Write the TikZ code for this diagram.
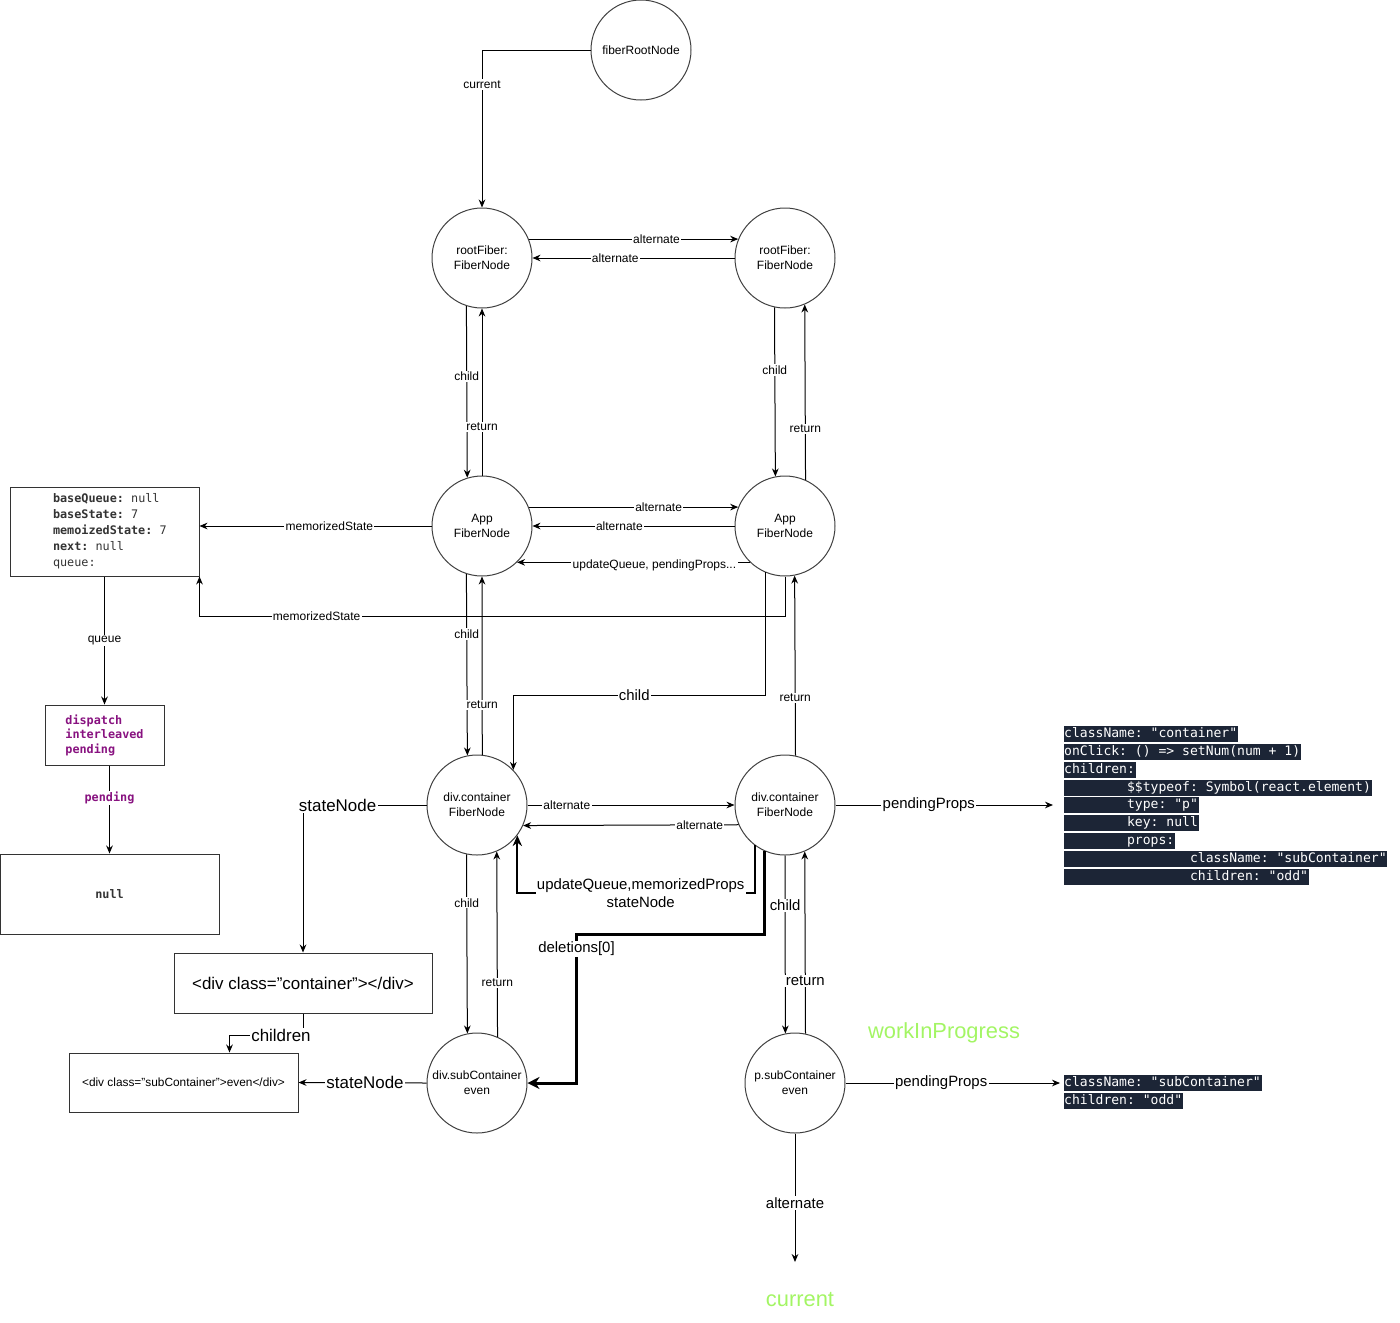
\documentclass[tikz,border=0pt]{standalone}
\usepackage{fontspec}
\setmainfont{Liberation Sans}
\setmonofont{DejaVu Sans Mono}
\usetikzlibrary{arrows.meta,calc}
\definecolor{codebg}{RGB}{28,37,54}
\definecolor{hookpurple}{RGB}{136,18,128}
\definecolor{wipgreen}{RGB}{163,245,100}
\newcommand{\hookind}{\hspace*{8pt}}

\begin{document}
\begin{tikzpicture}[x=.75pt,y=-.75pt,line width=.75pt,
  fiber/.style={circle,draw=black!75,minimum size=75pt,inner sep=0pt,align=center,font=\fontsize{9}{11.25}\selectfont},
  box/.style={rectangle,draw=black!80,inner sep=0pt},
  lbl/.style={fill=white,inner sep=1pt,font=\fontsize{9}{11}\selectfont},
  biglbl/.style={fill=white,inner sep=1pt,font=\fontsize{11.2}{13.5}\selectfont},
  domlbl/.style={fill=white,inner sep=1pt,font=\fontsize{12.7}{15}\selectfont},
  link/.style={-{Stealth[length=6pt,width=5pt]}},
  codeln/.style={anchor=west,fill=codebg,text=white,inner xsep=.5pt,inner ysep=0pt,text height=8.8pt,text depth=3pt,font=\fontsize{9.8}{11}\ttfamily},
  wiplabel/.style={text=wipgreen,font=\fontsize{16.4}{19}\selectfont}]
\useasboundingbox (0,0) rectangle (1400,1322);

\node[fiber] (froot) at (641,50) {fiberRootNode};
\node[fiber] (rootL) at (482,258) {rootFiber:\\FiberNode};
\node[fiber] (rootR) at (785,258) {rootFiber:\\FiberNode};
\node[fiber] (appL) at (482,526) {App\\FiberNode};
\node[fiber] (appR) at (785,526) {App\\FiberNode};
\node[fiber] (divL) at (477,805) {div.container\\FiberNode};
\node[fiber] (divR) at (785,805) {div.container\\FiberNode};
\node[fiber] (subL) at (477,1083) {div.subContainer\\even};
\node[fiber] (subR) at (795,1083) {p.subContainer\\even};

\node[box,minimum width=141.75pt,minimum height=66.75pt,align=left,text=black!80,font=\fontsize{8.85}{12}\ttfamily] (hook) at (104.5,531.5)
  {\hookind\textbf{baseQueue:} null\\\hookind\textbf{baseState:} 7\\\hookind\textbf{memoizedState:} 7\\\hookind\textbf{next:} null\\\hookind queue:};
\node[box,minimum width=89.25pt,minimum height=45pt,align=left,text=hookpurple,font=\fontsize{8.85}{10.9}\ttfamily\bfseries] (dispatch) at (104.5,735)
  {dispatch\\interleaved\\pending};
\node[box,minimum width=164.25pt,minimum height=60pt,text=black!80,font=\fontsize{8.85}{10.9}\ttfamily\bfseries] (null) at (109.5,894) {null};
\node[box,minimum width=193.5pt,minimum height=45pt,font=\fontsize{12.7}{15}\selectfont] (cbox) at (303,983) {<div class="container"></div>};
\node[box,minimum width=171.75pt,minimum height=44.25pt,font=\fontsize{8.9}{11}\selectfont] (sbox) at (183.5,1082.5) {<div class="subContainer">even</div>};

\node[codeln] (pp1) at (1063,734) {className: "container"};
\node[codeln] (pp2) at (1063,752) {onClick: () => setNum(num + 1)};
\node[codeln] (pp3) at (1063,770) {children:};
\node[codeln] (pp4) at (1063,788) {\phantom{xxxxxxxx}\$\$typeof: Symbol(react.element)};
\node[codeln] (pp5) at (1063,805) {\phantom{xxxxxxxx}type: "p"};
\node[codeln] (pp6) at (1063,823) {\phantom{xxxxxxxx}key: null};
\node[codeln] (pp7) at (1063,841) {\phantom{xxxxxxxx}props:};
\node[codeln] (pp8) at (1063,859) {\phantom{xxxxxxxxxxxxxxxx}className: "subContainer"};
\node[codeln] (pp9) at (1063,877) {\phantom{xxxxxxxxxxxxxxxx}children: "odd"};
\node[codeln] (spp1) at (1063,1083) {className: "subContainer"};
\node[codeln] (spp2) at (1063,1101) {children: "odd"};

\node[wiplabel] (wip) at (944,1033) {workInProgress};
\node[wiplabel] (cur) at (800,1300) {current};
\coordinate (curend) at (795,1262);

\draw[link] (froot.west) -| node[lbl,pos=.61]{current} (rootL.north);
\draw[link] (rootL.22) -- node[lbl,pos=.61]{alternate} (rootR.158);
\draw[link] (rootR.west) -- node[lbl,pos=.59]{alternate} (rootL.east);
\draw[link] (rootL.252.5) -- node[lbl,pos=.41]{child} (appL.107.5);
\draw[link] (appL.north) -- node[lbl,pos=.29]{return} (rootL.south);
\draw[link] (rootR.258.5) -- node[lbl,pos=.37]{child} (appR.101.5);
\draw[link] (appR.66.4) -- node[lbl,pos=.29]{return} (rootR.293.6);

\draw[link] (appL.22) -- node[lbl,pos=.62]{alternate} (appR.158);
\draw[link] (appR.west) -- node[lbl,pos=.57]{alternate} (appL.east);
\draw[link] (appR.226) -- node[lbl,pos=.41,yshift=-2pt]{updateQueue, pendingProps...} (appL.314);
\draw[link] (appL.west) -- node[lbl,pos=.44]{memorizedState} (appL.west -| hook.east);
\draw[link] (appR.south) -- ++(0,40) -| node[lbl,pos=.4]{memorizedState} (hook.south east);
\draw[link] (hook.south) -- node[lbl]{queue} (dispatch.north);
\draw[link] (dispatch.south -| null.north) -- node[lbl,pos=.37,text=hookpurple,font=\fontsize{8.85}{10}\ttfamily\bfseries]{pending} (null.north);

\draw[link] (appL.252.5) -- node[lbl,pos=.33]{child} (divL.101.5);
\draw[link] (divL.84.3) -- node[lbl,pos=.28]{return} (appL.south);
\draw[link] (appR.247.7) -- ++(0,123) -| node[biglbl,pos=.26]{child} (divL.44);
\draw[link] (divR.78.5) -- node[lbl,pos=.32]{return} (appR.281.5);

\draw[link] (divL.east) -- node[lbl,pos=.19]{alternate} (divR.west);
\draw[link] (divR.203.6) -- node[lbl,pos=.18]{alternate} (divL.336.4);
\draw[line width=1.5pt,-{Stealth[length=8pt,width=7pt]}] (divR.233.1) -- ++(0,48) -| node[biglbl,pos=.24,align=center]{updateQueue,memorizedProps\\stateNode} (divL.323.1);
\draw[line width=2.25pt,-{Stealth[length=9pt,width=9pt]}] (divR.246.4) -- ++(0,83) -| node[biglbl,pos=.55]{deletions[0]} ($(subL.east)+(49,0)$) -- (subL.east);
\draw[link] (divL.west) -| node[domlbl,pos=.36]{stateNode} (cbox.north);
\draw[link,shorten >=7.5pt] (divR.east) -- node[biglbl,pos=.41]{pendingProps} (pp5.west);

\draw[link] (divL.258.5) -- node[lbl,pos=.27]{child} (subL.101.5);
\draw[link] (subL.66.4) -- node[lbl,pos=.29]{return} (divL.293.6);
\draw[link] (divR.south) -- node[biglbl,pos=.28]{child} (subR.101.5);
\draw[link] (subR.78.5) -- node[biglbl,pos=.29]{return} (divR.293.6);

\draw[link] (cbox.south) -- ++(0,22) -| node[domlbl,pos=.15]{children} ($(sbox.north)+(46,0)$);
\draw[link] (subL.west) -- node[domlbl,pos=.48]{stateNode} (sbox.east);
\draw[link,shorten >=2.25pt] (subR.east) -- node[biglbl,pos=.44]{pendingProps} (spp1.west);
\draw[link] (subR.south) -- node[biglbl,pos=.54]{alternate} (curend);
\end{tikzpicture}
\end{document}
